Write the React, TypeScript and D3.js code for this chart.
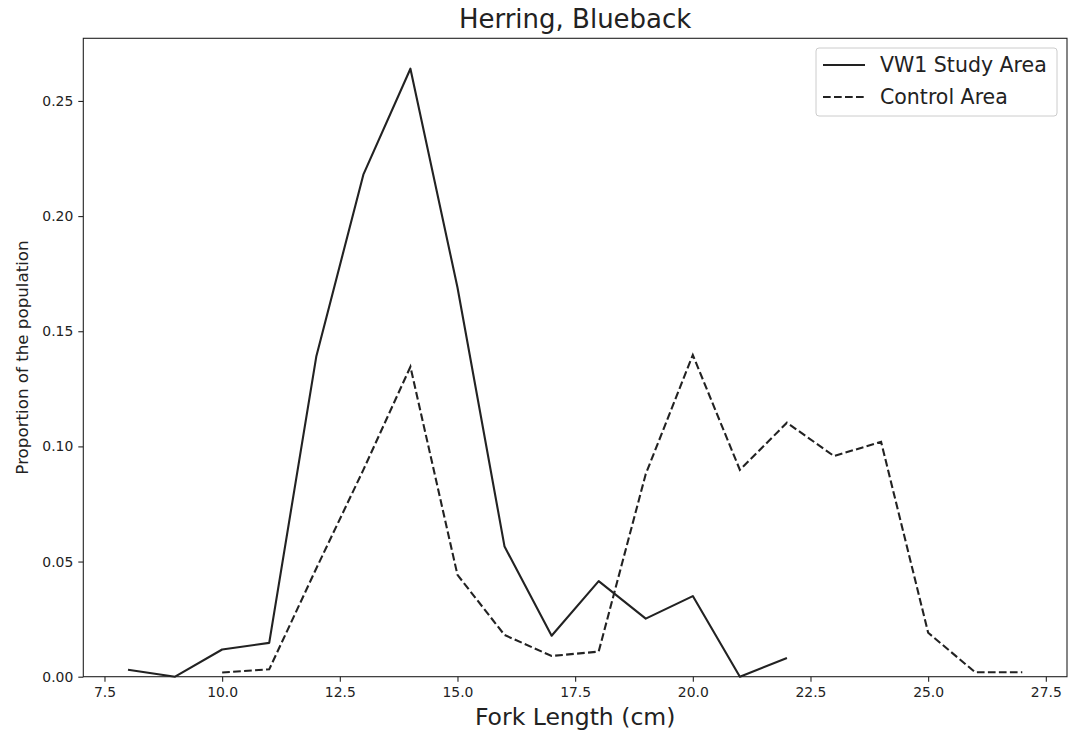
// Length-frequency lines for blueback herring, study area vs control area.
import { useEffect, useRef } from "react";
import * as d3 from "d3";

const studyLengths = [8, 9, 10, 11, 12, 13, 14, 15, 16, 17, 18, 19, 20, 21, 22];
const studyValues = [0.003, 0.0, 0.0118, 0.0147, 0.139, 0.218, 0.264, 0.169, 0.0565, 0.0178, 0.0415, 0.0252, 0.035, 0.0, 0.0081];

const controlLengths = [10, 11, 12, 13, 14, 15, 16, 17, 18, 19, 20, 21, 22, 23, 24, 25, 26, 27];
const controlValues = [0.0018, 0.0032, 0.047, 0.0898, 0.1346, 0.0442, 0.0181, 0.009, 0.0109, 0.088, 0.1397, 0.0898, 0.1103, 0.0958, 0.102, 0.0191, 0.0019, 0.0019];

const xTicks = [7.5, 10, 12.5, 15, 17.5, 20, 22.5, 25, 27.5];
const yTicks = [0, 0.05, 0.1, 0.15, 0.2, 0.25];

const seriesNames = ["VW1 Study Area", "Control Area"];

const W = 1069;
const H = 733;
const margin = { top: 38.3, right: 2, bottom: 56.3, left: 83.3 };
const font = "DejaVu Sans, sans-serif";
const ink = "#222";

export default function App() {
  const svgRef = useRef<SVGSVGElement | null>(null);

  useEffect(() => {
    const svg = d3.select(svgRef.current);
    svg.selectAll("*").remove();

    const innerW = W - margin.left - margin.right;
    const innerH = H - margin.top - margin.bottom;

    // matplotlib-style 5% padding on x, y starts at 0
    const xMin = 8, xMax = 27;
    const pad = (xMax - xMin) * 0.05;
    const x = d3.scaleLinear().domain([xMin - pad, xMax + pad]).range([0, innerW]);
    const yMax = d3.max(studyValues)! * 1.05;
    const y = d3.scaleLinear().domain([0, yMax]).range([innerH, 0]);

    const g = svg.append("g").attr("transform", `translate(${margin.left},${margin.top})`);

    const line = d3.line<[number, number]>()
      .x(d => x(d[0]))
      .y(d => y(d[1]));

    g.append("path")
      .datum(studyLengths.map((l, i) => [l, studyValues[i]] as [number, number]))
      .attr("d", line)
      .attr("fill", "none")
      .attr("stroke", ink)
      .attr("stroke-width", 2.1)
      .attr("stroke-linejoin", "round");

    g.append("path")
      .datum(controlLengths.map((l, i) => [l, controlValues[i]] as [number, number]))
      .attr("d", line)
      .attr("fill", "none")
      .attr("stroke", ink)
      .attr("stroke-width", 2.1)
      .attr("stroke-dasharray", "7.7,3.3");

    // Axes
    const xAxis = g.append("g")
      .attr("transform", `translate(0,${innerH})`)
      .call(d3.axisBottom(x).tickValues(xTicks).tickFormat(d3.format(".1f")).tickSize(5).tickPadding(5));
    const yAxis = g.append("g")
      .call(d3.axisLeft(y).tickValues(yTicks).tickFormat(d3.format(".2f")).tickSize(5).tickPadding(5));

    [xAxis, yAxis].forEach(a => {
      a.select(".domain").remove();
      a.selectAll("line").attr("stroke", ink).attr("stroke-width", 1.1);
      a.selectAll("text").attr("font-family", font).attr("font-size", 13.9).attr("fill", ink);
    });

    // Frame
    g.append("rect")
      .attr("width", innerW)
      .attr("height", innerH)
      .attr("fill", "none")
      .attr("stroke", ink)
      .attr("stroke-width", 1.1);

    // Labels
    svg.append("text")
      .attr("x", margin.left + innerW / 2)
      .attr("y", 28)
      .attr("text-anchor", "middle")
      .attr("font-family", font)
      .attr("font-size", 26)
      .attr("fill", ink)
      .text("Herring, Blueback");

    svg.append("text")
      .attr("x", margin.left + innerW / 2)
      .attr("y", 725)
      .attr("text-anchor", "middle")
      .attr("font-family", font)
      .attr("font-size", 23.5)
      .attr("fill", ink)
      .text("Fork Length (cm)");

    svg.append("text")
      .attr("transform", `translate(28,${margin.top + innerH / 2}) rotate(-90)`)
      .attr("text-anchor", "middle")
      .attr("font-family", font)
      .attr("font-size", 16.7)
      .attr("fill", ink)
      .text("Proportion of the population");

    // Legend
    const lg = svg.append("g").attr("transform", "translate(816,48)");
    lg.append("rect")
      .attr("width", 241)
      .attr("height", 68)
      .attr("rx", 3)
      .attr("fill", "white")
      .attr("stroke", "#ccc")
      .attr("stroke-width", 1);

    seriesNames.forEach((name, i) => {
      const cy = 17 + i * 32;
      lg.append("line")
        .attr("x1", 7).attr("x2", 49)
        .attr("y1", cy).attr("y2", cy)
        .attr("stroke", ink)
        .attr("stroke-width", 2.1)
        .attr("stroke-dasharray", i === 1 ? "7.7,3.3" : null);
      lg.append("text")
        .attr("x", 64)
        .attr("y", cy)
        .attr("dy", "0.35em")
        .attr("font-family", font)
        .attr("font-size", 20.5)
        .attr("fill", ink)
        .text(name);
    });
  }, []);

  return <svg ref={svgRef} width={W} height={H} style={{ position: "absolute", left: 0, top: 0, background: "white" }} />;
}
